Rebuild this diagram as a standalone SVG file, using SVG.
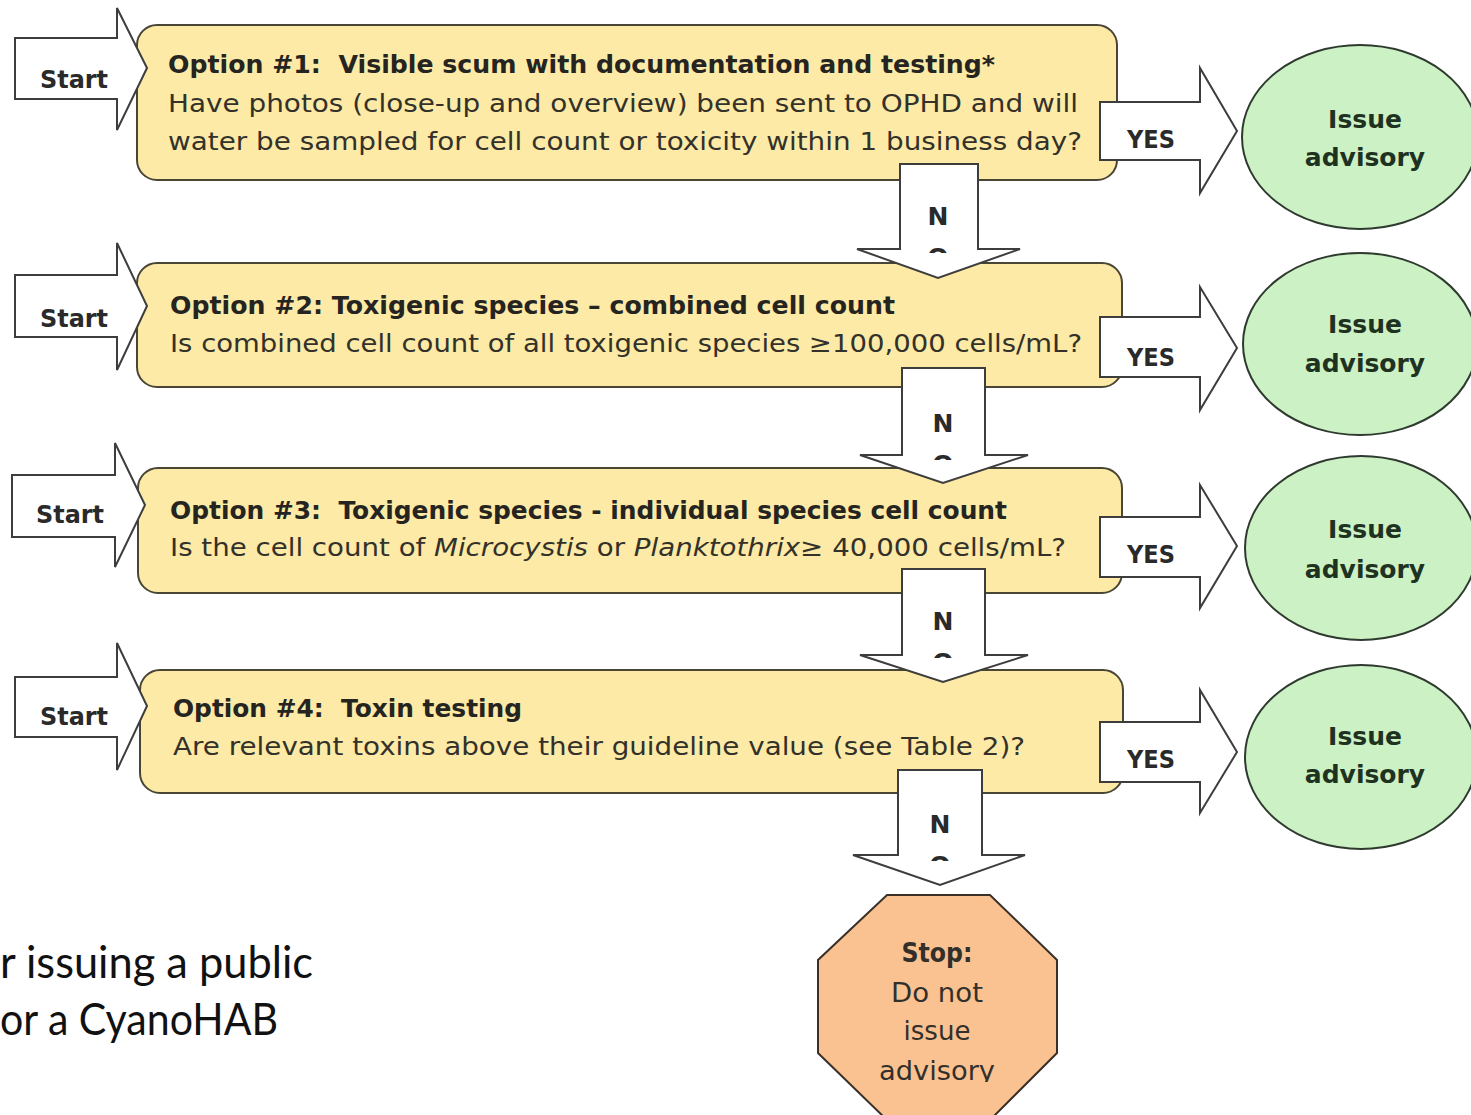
<svg xmlns="http://www.w3.org/2000/svg" width="1471" height="1115" viewBox="0 0 1471 1115">
<style>
  .box { fill: #FCEAA6; stroke: #4a4636; stroke-width: 2; }
  .arrow { fill: #ffffff; stroke: #3d3d3d; stroke-width: 2; stroke-linejoin: miter; }
  .oval { fill: #CBF1C4; stroke: #2f3a2f; stroke-width: 2; }
  .stop { fill: #F9C290; stroke: #3a3028; stroke-width: 2; }
  .t { font-family: "DejaVu Sans", Verdana, sans-serif; font-size: 25px; fill: #33312a; }
  .b { font-weight: bold; fill: #262420; }
  .lbl { font-family: "DejaVu Sans", Verdana, sans-serif; font-size: 25px; font-weight: bold; fill: #2a2a2a; }
  .ov { font-family: "DejaVu Sans", Verdana, sans-serif; font-size: 25px; font-weight: bold; fill: #1f321f; text-anchor: middle; }
  .st { font-family: "DejaVu Sans", Verdana, sans-serif; font-size: 26px; fill: #33302c; text-anchor: middle; }
  .side { font-family: Lato, "Open Sans", sans-serif; font-size: 44px; fill: #111111; }
</style>
<defs>
  <clipPath id="cO1" clipPathUnits="userSpaceOnUse"><rect x="900" y="200" width="80" height="53"/></clipPath>
  <clipPath id="cO2" clipPathUnits="userSpaceOnUse"><rect x="902" y="405" width="83" height="55"/></clipPath>
  <clipPath id="cO3" clipPathUnits="userSpaceOnUse"><rect x="902" y="605" width="83" height="53"/></clipPath>
  <clipPath id="cO4" clipPathUnits="userSpaceOnUse"><rect x="898" y="808" width="84" height="53"/></clipPath>
  <clipPath id="cStop" clipPathUnits="userSpaceOnUse"><rect x="818" y="890" width="240" height="192"/></clipPath>
</defs>
<rect x="0" y="0" width="1471" height="1115" fill="#ffffff"/>

<!-- Option boxes -->
<g id="option1">
  <rect class="box" x="137" y="25" width="980" height="155" rx="20"/>
  <text class="t b" x="168" y="73" textLength="827" lengthAdjust="spacingAndGlyphs" xml:space="preserve">Option #1:  Visible scum with documentation and testing*</text>
  <text class="t" x="168" y="112" textLength="910" lengthAdjust="spacingAndGlyphs">Have photos (close-up and overview) been sent to OPHD and will</text>
  <text class="t" x="168" y="150" textLength="914" lengthAdjust="spacingAndGlyphs">water be sampled for cell count or toxicity within 1 business day?</text>
</g>
<g id="option2">
  <rect class="box" x="137" y="263" width="985" height="124" rx="20"/>
  <text class="t b" x="170" y="314" textLength="725" lengthAdjust="spacingAndGlyphs">Option #2: Toxigenic species – combined cell count</text>
  <text class="t" x="170" y="352" textLength="912" lengthAdjust="spacingAndGlyphs">Is combined cell count of all toxigenic species ≥100,000 cells/mL?</text>
</g>
<g id="option3">
  <rect class="box" x="138" y="468" width="984" height="125" rx="20"/>
  <text class="t b" x="170" y="519" textLength="837" lengthAdjust="spacingAndGlyphs" xml:space="preserve">Option #3:  Toxigenic species - individual species cell count</text>
  <text class="t" x="170" y="556" textLength="896" lengthAdjust="spacingAndGlyphs" xml:space="preserve">Is the cell count of <tspan font-style="italic">Microcystis</tspan> or <tspan font-style="italic">Planktothrix</tspan>≥ 40,000 cells/mL?</text>
</g>
<g id="option4">
  <rect class="box" x="140" y="670" width="983" height="123" rx="20"/>
  <text class="t b" x="173" y="717" textLength="349" lengthAdjust="spacingAndGlyphs" xml:space="preserve">Option #4:  Toxin testing</text>
  <text class="t" x="173" y="755" textLength="852" lengthAdjust="spacingAndGlyphs">Are relevant toxins above their guideline value (see Table 2)?</text>
</g>

<!-- Start arrows -->
<g id="start1">
  <path class="arrow" d="M15,38 H117 V8 L147,68 L117,130 V99 H15 Z"/>
  <text class="lbl" x="40" y="88" textLength="68" lengthAdjust="spacingAndGlyphs">Start</text>
</g>
<g id="start2">
  <path class="arrow" d="M15,275 H117 V243 L147,306 L117,370 V337 H15 Z"/>
  <text class="lbl" x="40" y="327" textLength="68" lengthAdjust="spacingAndGlyphs">Start</text>
</g>
<g id="start3">
  <path class="arrow" d="M12,475 H115 V443 L145,505 L115,567 V537 H12 Z"/>
  <text class="lbl" x="36" y="523" textLength="68" lengthAdjust="spacingAndGlyphs">Start</text>
</g>
<g id="start4">
  <path class="arrow" d="M15,677 H117 V643 L147,706 L117,770 V737 H15 Z"/>
  <text class="lbl" x="40" y="725" textLength="68" lengthAdjust="spacingAndGlyphs">Start</text>
</g>

<!-- Connectors -->
<g id="connectors">
  <g id="yes1">
    <path class="arrow" d="M1100,102 H1200 V68 L1237,131 L1200,193 V160 H1100 Z"/>
    <text class="lbl" x="1127" y="148" textLength="48" lengthAdjust="spacingAndGlyphs">YES</text>
  </g>
  <g id="yes2">
    <path class="arrow" d="M1100,317 H1200 V287 L1237,348 L1200,410 V377 H1100 Z"/>
    <text class="lbl" x="1127" y="366" textLength="48" lengthAdjust="spacingAndGlyphs">YES</text>
  </g>
  <g id="yes3">
    <path class="arrow" d="M1100,517 H1200 V485 L1237,546 L1200,608 V577 H1100 Z"/>
    <text class="lbl" x="1127" y="563" textLength="48" lengthAdjust="spacingAndGlyphs">YES</text>
  </g>
  <g id="yes4">
    <path class="arrow" d="M1100,722 H1200 V690 L1237,752 L1200,813 V782 H1100 Z"/>
    <text class="lbl" x="1127" y="768" textLength="48" lengthAdjust="spacingAndGlyphs">YES</text>
  </g>
  <g id="no1">
    <path class="arrow" d="M900,164 H978 V249 H1020 L938,278 L857,249 H900 Z"/>
    <text class="lbl" x="938" y="225" text-anchor="middle">N</text>
    <text class="lbl" x="938" y="266" text-anchor="middle" clip-path="url(#cO1)">O</text>
  </g>
  <g id="no2">
    <path class="arrow" d="M902,368 H985 V455 H1028 L943,483 L860,455 H902 Z"/>
    <text class="lbl" x="943" y="432" text-anchor="middle">N</text>
    <text class="lbl" x="943" y="473" text-anchor="middle" clip-path="url(#cO2)">O</text>
  </g>
  <g id="no3">
    <path class="arrow" d="M902,569 H985 V655 H1028 L943,682 L860,655 H902 Z"/>
    <text class="lbl" x="943" y="630" text-anchor="middle">N</text>
    <text class="lbl" x="943" y="671" text-anchor="middle" clip-path="url(#cO3)">O</text>
  </g>
  <g id="no4">
    <path class="arrow" d="M898,770 H982 V855 H1025 L940,885 L853,855 H898 Z"/>
    <text class="lbl" x="940" y="833" text-anchor="middle">N</text>
    <text class="lbl" x="940" y="874" text-anchor="middle" clip-path="url(#cO4)">O</text>
  </g>
</g>

<!-- Issue advisory ovals -->
<g id="issue1">
  <ellipse class="oval" cx="1360" cy="137" rx="118" ry="92"/>
  <text class="ov" x="1365" y="128">Issue</text>
  <text class="ov" x="1365" y="166">advisory</text>
</g>
<g id="issue2">
  <ellipse class="oval" cx="1360" cy="344" rx="117" ry="91"/>
  <text class="ov" x="1365" y="333">Issue</text>
  <text class="ov" x="1365" y="372">advisory</text>
</g>
<g id="issue3">
  <ellipse class="oval" cx="1361" cy="548" rx="116" ry="92"/>
  <text class="ov" x="1365" y="538">Issue</text>
  <text class="ov" x="1365" y="578">advisory</text>
</g>
<g id="issue4">
  <ellipse class="oval" cx="1361" cy="757" rx="116" ry="92"/>
  <text class="ov" x="1365" y="745">Issue</text>
  <text class="ov" x="1365" y="783">advisory</text>
</g>

<!-- Stop -->
<g id="stop">
  <polygon class="stop" points="887,895 990,895 1057,960 1057,1053 990,1120 887,1120 818,1053 818,960"/>
  <text class="st" x="937" y="962" font-weight="bold" textLength="71" lengthAdjust="spacingAndGlyphs">Stop:</text>
  <text class="st" x="937" y="1002" textLength="92" lengthAdjust="spacingAndGlyphs">Do not</text>
  <text class="st" x="937" y="1040" textLength="67" lengthAdjust="spacingAndGlyphs">issue</text>
  <text class="st" x="937" y="1080" textLength="116" lengthAdjust="spacingAndGlyphs" clip-path="url(#cStop)">advisory</text>
</g>

<!-- Side caption fragment -->
<g id="caption">
  <text class="side" x="0" y="978" textLength="313" lengthAdjust="spacingAndGlyphs">r issuing a public</text>
  <text class="side" x="0" y="1035" textLength="278" lengthAdjust="spacingAndGlyphs">or a CyanoHAB</text>
</g>
</svg>
